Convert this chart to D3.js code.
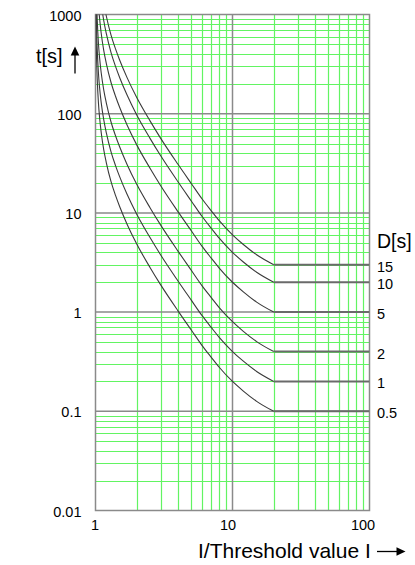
<!DOCTYPE html>
<html><head><meta charset="utf-8">
<script src="https://cdn.jsdelivr.net/npm/d3@7"></script>
<style>
body{margin:0;background:#fff}
svg{display:block}
text{font-family:"Liberation Sans",Arial,Helvetica,sans-serif;fill:#000}
</style>
</head><body>
<svg id="chart" width="415" height="565"></svg>
<script>
// ---- data ----
const ratioX = [1.005, 1.01, 1.02, 1.03, 1.05, 1.07, 1.1, 1.15, 1.2, 1.3, 1.4, 1.5, 1.7, 2, 2.5, 3, 4, 5, 6, 7, 8, 10, 12, 15, 20, 100];
const seriesLabels = ["15", "10", "5", "2", "1", "0.5"];
const tD15 = [39000, 19800, 9900, 6600, 3900, 2790, 1950, 1290, 960, 615, 450, 348, 231, 145.5, 84.6, 56.1, 30.9, 19.8, 13.8, 10.5, 8.34, 6.0, 4.8, 3.78, 3, 3];
const tD10 = [26000, 13200, 6600, 4400, 2600, 1860, 1300, 860, 640, 410, 300, 232, 154, 97, 56.4, 37.4, 20.6, 13.2, 9.2, 7.0, 5.56, 4.0, 3.2, 2.52, 2, 2];
const tD5  = [13000, 6600, 3300, 2200, 1300, 930, 650, 430, 320, 205, 150, 116, 77, 48.5, 28.2, 18.7, 10.3, 6.6, 4.6, 3.5, 2.78, 2.0, 1.6, 1.26, 1, 1];
const tD2  = [5200, 2640, 1320, 880, 520, 372, 260, 172, 128, 82, 60, 46.4, 30.8, 19.4, 11.28, 7.48, 4.12, 2.64, 1.84, 1.4, 1.11, 0.8, 0.64, 0.504, 0.4, 0.4];
const tD1  = [2600, 1320, 660, 440, 260, 186, 130, 86, 64, 41, 30, 23.2, 15.4, 9.7, 5.64, 3.74, 2.06, 1.32, 0.92, 0.7, 0.556, 0.4, 0.32, 0.252, 0.2, 0.2];
const tD05 = [1300, 660, 330, 220, 130, 93, 65, 43, 32, 20.5, 15, 11.6, 7.7, 4.85, 2.82, 1.87, 1.03, 0.66, 0.46, 0.35, 0.278, 0.2, 0.16, 0.126, 0.1, 0.1];
const flatStart = 20;
const xTicks = [1, 10, 100];
const xTickLabels = ["1", "10", "100"];
const yTicks = [0.01, 0.1, 1, 10, 100, 1000];
const yTickLabels = ["0.01", "0.1", "1", "10", "100", "1000"];
const yTitle = "t[s]";
const xTitle = "I/Threshold value I";
const legendTitle = "D[s]";

const seriesT = [tD15, tD10, tD5, tD2, tD1, tD05];

// ---- layout ----
const svg = d3.select("#chart");
const L = 95.5, R = 369.5, T = 14.5, B = 510.5;
const x = d3.scaleLog().domain([1, 100]).range([L, R]);
const y = d3.scaleLog().domain([0.01, 1000]).range([B, T]);

const green = "#62f462", gray = "#8a8a8a";

// minor grid
const minorX = [], minorY = [];
for (let e = 0; e < 2; e++) for (let k = 2; k <= 9; k++) minorX.push(k * Math.pow(10, e));
for (let e = -2; e < 3; e++) for (let k = 2; k <= 9; k++) minorY.push(+(k * Math.pow(10, e)).toPrecision(3));

const g = svg.append("g");
g.selectAll(".mx").data(minorX).join("line")
  .attr("x1", d => Math.round(x(d)) + 0.5).attr("x2", d => Math.round(x(d)) + 0.5)
  .attr("y1", T).attr("y2", B).attr("stroke", green).attr("stroke-width", 1.2);
g.selectAll(".my").data(minorY).join("line")
  .attr("y1", d => Math.round(y(d)) + 0.5).attr("y2", d => Math.round(y(d)) + 0.5)
  .attr("x1", L).attr("x2", R).attr("stroke", green).attr("stroke-width", 1.2);

// decade lines
g.selectAll(".dx").data([10]).join("line")
  .attr("x1", d => x(d)).attr("x2", d => x(d))
  .attr("y1", T).attr("y2", B).attr("stroke", gray).attr("stroke-width", 1.5);
g.selectAll(".dy").data([0.1, 1, 10, 100]).join("line")
  .attr("y1", d => y(d)).attr("y2", d => y(d))
  .attr("x1", L).attr("x2", R).attr("stroke", gray).attr("stroke-width", 1.5);

// frame
g.append("rect").attr("x", L).attr("y", T).attr("width", R - L).attr("height", B - T)
  .attr("fill", "none").attr("stroke", gray).attr("stroke-width", 1.5);

// clip
svg.append("clipPath").attr("id", "clip").append("rect")
  .attr("x", L).attr("y", T).attr("width", R - L).attr("height", B - T);

const curveLine = d3.line().x(d => x(d[0])).y(d => y(d[1])).curve(d3.curveMonotoneX);
const flatLine = d3.line().x(d => x(d[0])).y(d => y(d[1]));
const cg = svg.append("g").attr("clip-path", "url(#clip)");
seriesT.forEach(ts => {
  const pts = ratioX.map((v, i) => [v, ts[i]]);
  const c = pts.filter(p => p[0] <= flatStart);
  const f = pts.filter(p => p[0] >= flatStart);
  cg.append("path").attr("d", curveLine(c)).attr("fill", "none")
    .attr("stroke", "#3a3a3a").attr("stroke-width", 1.1);
  cg.append("path").attr("d", flatLine(f)).attr("fill", "none")
    .attr("stroke", "#6a6a6a").attr("stroke-width", 2);
});

// axes
const yAxis = d3.axisLeft(y).tickValues(yTicks).tickSize(0).tickPadding(14)
  .tickFormat((d, i) => yTickLabels[i]);
const ya = svg.append("g").attr("transform", `translate(${L},0)`).call(yAxis);
ya.select(".domain").remove();
ya.selectAll("text").style("font-family", '"Liberation Sans",Arial,sans-serif').style("font-size", "14.5px").attr("fill", "#000").attr("dy", "0.38em");

const xAxis = d3.axisBottom(x).tickValues(xTicks).tickSize(0).tickPadding(9.5)
  .tickFormat((d, i) => xTickLabels[i]);
const xa = svg.append("g").attr("transform", `translate(0,${B})`).call(xAxis);
xa.select(".domain").remove();
const xDx = [-1, -5, -7];
xa.selectAll("text").style("font-family", '"Liberation Sans",Arial,sans-serif').style("font-size", "14.5px").attr("fill", "#000")
  .attr("dx", (d, i) => xDx[i]);

// series labels on right
svg.append("text").attr("x", 377).attr("y", 248).style("font-size", "19.5px").text(legendTitle);
seriesLabels.forEach((lab, i) => {
  const ts = seriesT[i];
  svg.append("text").attr("x", 377).attr("y", y(ts[ts.length - 1]) + 7)
    .style("font-size", "14.5px").text(lab);
});

// y title + arrow
svg.append("text").attr("x", 36).attr("y", 62.5).style("font-size", "20px").text(yTitle);
svg.append("line").attr("x1", 75).attr("x2", 75).attr("y1", 54).attr("y2", 73.5).attr("stroke", "#000").attr("stroke-width", 1.3);
svg.append("path").attr("d", "M75,46.5 L79.3,55.5 L70.7,55.5 Z").attr("fill", "#000");

// x title + arrow
svg.append("text").attr("x", 198).attr("y", 558).style("font-size", "21px").text(xTitle);
svg.append("line").attr("x1", 377).attr("x2", 397).attr("y1", 551.5).attr("y2", 551.5).attr("stroke", "#000").attr("stroke-width", 1.3);
svg.append("path").attr("d", "M405.5,551.5 L396.5,547.2 L396.5,555.8 Z").attr("fill", "#000");
</script>
</body></html>
